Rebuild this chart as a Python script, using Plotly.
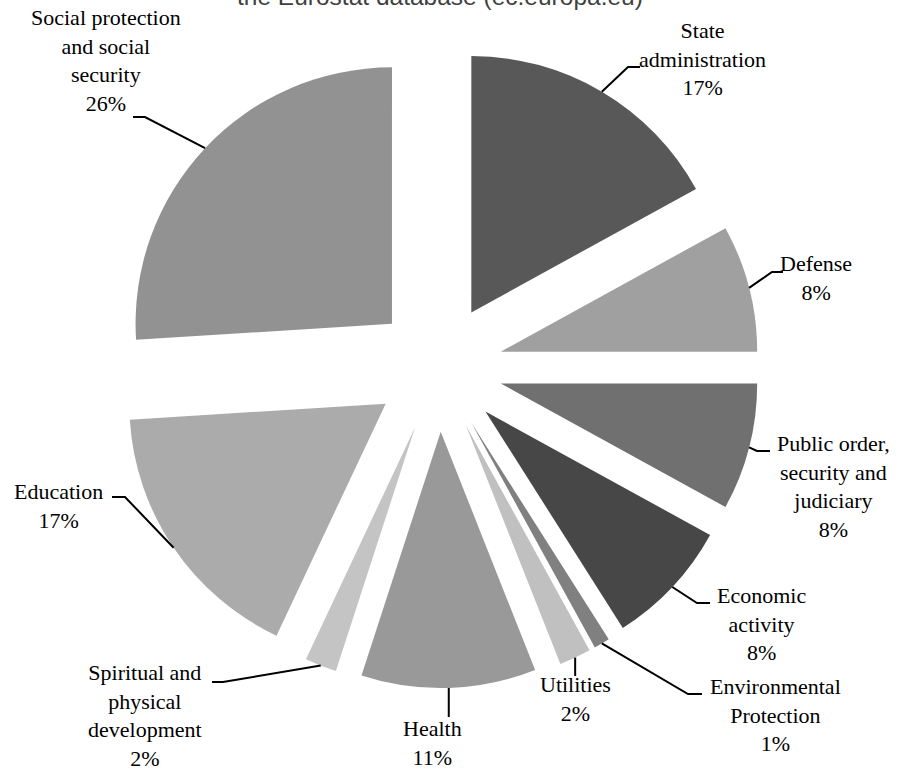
import math
import plotly.graph_objects as go

# Budget expenditure structure by function (shares, %)
categories = [
    "State administration",
    "Defense",
    "Public order, security and judiciary",
    "Economic activity",
    "Environmental Protection",
    "Utilities",
    "Health",
    "Spiritual and physical development",
    "Education",
    "Social protection and social security",
]
shares = [17, 8, 8, 8, 1, 2, 11, 2, 17, 26]
label_lines = [
    ["State", "administration"],
    ["Defense"],
    ["Public order,", "security and", "judiciary"],
    ["Economic", "activity"],
    ["Environmental", "Protection"],
    ["Utilities"],
    ["Health"],
    ["Spiritual and", "physical", "development"],
    ["Education"],
    ["Social protection", "and social", "security"],
]
slice_colors = ["#585858", "#a0a0a0", "#707070", "#474747", "#808080",
                "#c0c0c0", "#999999", "#c4c4c4", "#ababab", "#929292"]

title_text = "the Eurostat database (ec.europa.eu)"

# ---- layout geometry (pixels) ----
W, H = 899, 770
CX, CY, R, PULL = 438.7, 367.6, 256.4, 0.25
HALF = R * (1 + PULL)

# label block centres and leader-line elbows (pixels)
label_layout = {
    "State administration": dict(pos=(702, 59), path=[(628, 67), (640, 67)]),
    "Defense": dict(pos=(816, 278), path=[(772, 272), (783, 272)]),
    "Public order, security and judiciary": dict(pos=(833, 486), path=[(757, 451), (770, 451)]),
    "Economic activity": dict(pos=(761, 624), path=[(697, 603), (710, 603)]),
    "Environmental Protection": dict(pos=(775, 715), path=[(688, 694), (702, 694)]),
    "Utilities": dict(pos=(575, 699), path=[("same", 676)]),
    "Health": dict(pos=(432, 743), path=[("same", 717)]),
    "Spiritual and physical development": dict(pos=(145, 715), path=[(223, 682), (212, 682)]),
    "Education": dict(pos=(58, 506), path=[(125, 497), (112, 497)]),
    "Social protection and social security": dict(pos=(106, 61), path=[(145, 117), (133, 117)]),
}


def px_to_paper(x, y):
    return x / W, 1 - y / H


def slice_anchor(i):
    """Point on the outer arc of slice i at its mid angle (pulled slice)."""
    total = sum(shares)
    start = sum(shares[:i]) / total * 360
    mid = math.radians(start + shares[i] / total * 180)
    dx, dy = math.sin(mid), -math.cos(mid)
    ox, oy = CX + PULL * R * dx, CY + PULL * R * dy
    return ox + R * dx, oy + R * dy


fig = go.Figure(
    go.Pie(
        labels=categories,
        values=shares,
        sort=False,
        direction="clockwise",
        rotation=0,
        pull=[PULL] * len(shares),
        marker=dict(colors=slice_colors, line=dict(width=0)),
        textinfo="none",
        hoverinfo="skip",
        domain=dict(
            x=[(CX - HALF) / W, (CX + HALF) / W],
            y=[1 - (CY + HALF) / H, 1 - (CY - HALF) / H],
        ),
    )
)

annotations = []
shapes = []
for i, name in enumerate(categories):
    spec = label_layout[name]
    text = "<br>".join(label_lines[i] + [f"{shares[i]}%"])
    ax, ay = px_to_paper(*spec["pos"])
    annotations.append(dict(
        x=ax, y=ay, xref="paper", yref="paper", text=text, showarrow=False,
        xanchor="center", yanchor="middle", align="center",
        font=dict(family="Liberation Serif", size=22, color="#000000"),
    ))
    sx, sy = slice_anchor(i)
    pts = [(sx, sy)]
    for px, py in spec["path"]:
        pts.append((sx if px == "same" else px, py))
    d = ""
    for k, (px, py) in enumerate(pts):
        qx, qy = px_to_paper(px, py)
        d += ("M" if k == 0 else " L") + f" {qx:.5f} {qy:.5f}"
    shapes.append(dict(type="path", path=d, xref="paper", yref="paper",
                       line=dict(color="#000000", width=2)))

# title line, partly above the top edge of the page
annotations.append(dict(
    x=440 / W, y=1, xref="paper", yref="paper", text=title_text, showarrow=False,
    xanchor="center", yanchor="bottom", yshift=-12,
    font=dict(family="Liberation Sans", size=24.5, color="#404040"),
))

fig.update_layout(
    width=W, height=H,
    margin=dict(l=0, r=0, t=0, b=0, pad=0),
    paper_bgcolor="#ffffff", plot_bgcolor="#ffffff",
    showlegend=False,
    annotations=annotations,
    shapes=shapes,
)

fig.write_html("out.html")
